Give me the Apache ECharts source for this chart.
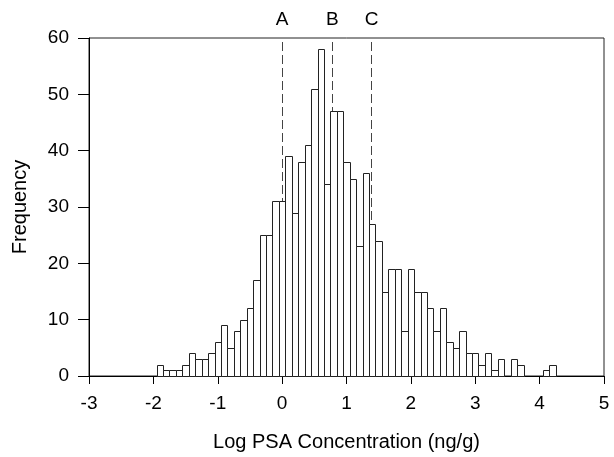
<!DOCTYPE html>
<html>
<head>
<meta charset="utf-8">
<script src="https://cdn.jsdelivr.net/npm/echarts@6/dist/echarts.min.js"></script>
<style>
  html, body { margin: 0; padding: 0; background: #fff; }
  #chart { width: 614px; height: 457px; }
</style>
</head>
<body>
<div id="chart"></div>
<script>
// bin centres (width 0.1) and counts
var binCenters = [
  -1.9, -1.8, -1.7, -1.6, -1.5, -1.4, -1.3, -1.2, -1.1, -1.0,
  -0.9, -0.8, -0.7, -0.6, -0.5, -0.4, -0.3, -0.2, -0.1, 0.0,
  0.1, 0.2, 0.3, 0.4, 0.5, 0.6, 0.7, 0.8, 0.9, 1.0,
  1.1, 1.2, 1.3, 1.4, 1.5, 1.6, 1.7, 1.8, 1.9, 2.0,
  2.1, 2.2, 2.3, 2.4, 2.5, 2.6, 2.7, 2.8, 2.9, 3.0,
  3.1, 3.2, 3.3, 3.4, 3.5, 3.6, 3.7, 3.8, 3.9, 4.0,
  4.1, 4.2
];
var counts = [
  2, 1, 1, 1, 2, 4, 3, 3, 4, 6,
  9, 5, 8, 10, 12, 17, 25, 25, 31, 31,
  39, 29, 38, 41, 51, 58, 34, 47, 47, 38,
  35, 23, 36, 27, 24, 15, 19, 19, 8, 19,
  15, 15, 12, 8, 12, 6, 5, 8, 4, 4,
  2, 4, 1, 3, 0, 3, 2, 0, 0, 0,
  1, 2
];
var binWidth = 0.1;

// reference lines A, B, C
var refNames = ['A', 'B', 'C'];
var refValues = [0, 0.78, 1.39];

var xTicks = [-3, 5, 1];   // min, max, interval
var yTicks = [0, 60, 10];

var font = '"Liberation Sans", Arial, sans-serif';

var histData = [];
for (var i = 0; i < binCenters.length; i++) {
  histData.push([binCenters[i], counts[i]]);
}

var refLines = [];
for (var j = 0; j < refNames.length; j++) {
  refLines.push({ name: refNames[j], xAxis: refValues[j] });
}

var myChart = echarts.init(document.getElementById('chart'), null, { renderer: 'canvas' });

var option = {
  backgroundColor: '#fff',
  animation: false,
  grid: {
    left: 89, right: 10, top: 38, bottom: 81,
    show: true,
    borderColor: '#222',
    borderWidth: 1,
    backgroundColor: 'transparent'
  },
  xAxis: {
    type: 'value',
    min: xTicks[0], max: xTicks[1], interval: xTicks[2],
    name: 'Log PSA Concentration (ng/g)',
    nameLocation: 'middle',
    nameGap: 56,
    nameTextStyle: { color: '#000', fontSize: 20, fontFamily: font },
    axisLine: { onZero: false, lineStyle: { color: '#000', width: 1 } },
    axisTick: { show: true, inside: false, length: 8, lineStyle: { color: '#000' } },
    axisLabel: { color: '#000', fontSize: 19, fontFamily: font, margin: 18 },
    splitLine: { show: false }
  },
  yAxis: {
    type: 'value',
    min: yTicks[0], max: yTicks[1], interval: yTicks[2],
    name: 'Frequency',
    nameLocation: 'middle',
    nameGap: 59,
    nameTextStyle: { color: '#000', fontSize: 20, fontFamily: font },
    axisLine: { show: true, onZero: false, lineStyle: { color: '#000', width: 1 } },
    axisTick: { show: true, inside: false, length: 11, lineStyle: { color: '#000' } },
    axisLabel: { color: '#000', fontSize: 19, fontFamily: font, margin: 20 },
    splitLine: { show: false }
  },
  series: [
    {
      // dashed reference lines, drawn under the bars
      type: 'line',
      data: [],
      z: 1,
      silent: true,
      markLine: {
        silent: true,
        symbol: ['none', 'none'],
        z: 1,
        lineStyle: { color: '#444', type: [9, 4], width: 1 },
        label: {
          show: true,
          position: 'end',
          distance: 9,
          formatter: '{b}',
          color: '#000',
          fontSize: 19,
          fontFamily: font
        },
        data: refLines
      }
    },
    {
      type: 'custom',
      z: 10,
      data: histData,
      renderItem: function (params, api) {
        var x = api.value(0);
        var y = api.value(1);
        if (!y) {
          return null;
        }
        var p0 = api.coord([x - binWidth / 2, y]);
        var p1 = api.coord([x + binWidth / 2, 0]);
        return {
          type: 'rect',
          shape: {
            x: Math.round(p0[0]) + 0.5,
            y: Math.round(p0[1]) + 0.5,
            width: Math.round(p1[0]) - Math.round(p0[0]),
            height: Math.round(p1[1]) - Math.round(p0[1])
          },
          style: { fill: '#fff', stroke: '#222', lineWidth: 1 }
        };
      }
    }
  ]
};

myChart.setOption(option);
</script>
</body>
</html>
